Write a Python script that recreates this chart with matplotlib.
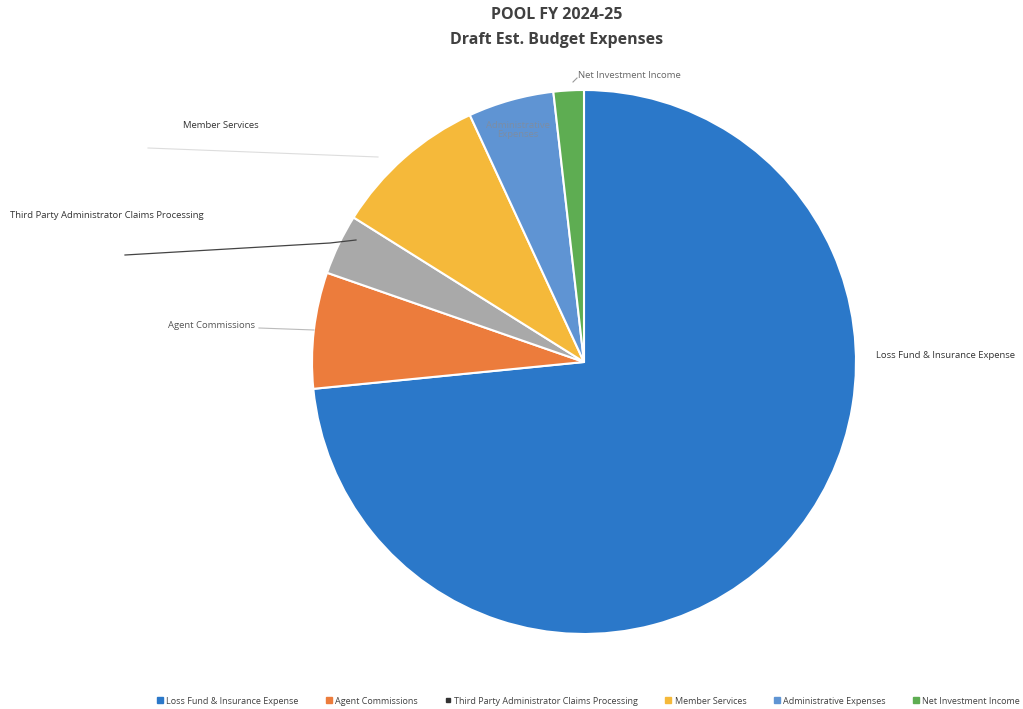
import matplotlib.pyplot as plt
from matplotlib.lines import Line2D

plt.rcParams['font.family'] = ['Open Sans', 'DejaVu Sans']

categories = ['Loss Fund & Insurance Expense', 'Agent Commissions',
              'Third Party Administrator Claims Processing', 'Member Services',
              'Administrative Expenses', 'Net Investment Income']
values = [73.5, 6.9, 3.6, 9.2, 5.1, 1.8]
colors = ['#2B78C9', '#EC7C3C', '#A9A9A9', '#F5B93A', '#5F94D3', '#5EAD52']

W, H = 1023, 709
fig = plt.figure(figsize=(W / 100, H / 100), dpi=100)
ax = fig.add_axes([0, 0, 1, 1])


def py(y):
    # pixel row (from top) -> data y
    return H - y


ax.pie(values, colors=colors, startangle=90, counterclock=False,
       center=(584, py(362)), radius=272,
       wedgeprops=dict(edgecolor='white', linewidth=1.5))
ax.set_xlim(0, W)
ax.set_ylim(0, H)
ax.set_aspect('equal')
ax.axis('off')

txt = '#333333'
fs = 6.8

# outside labels with leader lines
ax.text(876, py(356), categories[0], fontsize=fs, color=txt, va='center', ha='left')

ax.text(168, py(326), categories[1], fontsize=fs, color='#555555', va='center', ha='left')
ax.plot([259, 314], [py(328), py(330)], color='#bbbbbb', lw=0.8)

ax.text(10, py(216), categories[2], fontsize=fs, color=txt, va='center', ha='left')
ax.plot([125, 330, 356], [py(255), py(243), py(240)], color='#444444', lw=0.9)

ax.text(183, py(126), categories[3], fontsize=fs, color=txt, va='center', ha='left')
ax.plot([148, 378], [py(148), py(157)], color='#dddddd', lw=0.8)

ax.text(518, py(130), 'Administrative\nExpenses', fontsize=fs, color='#7d8da3',
        va='center', ha='center', linespacing=1.1)

ax.text(578, py(76), categories[5], fontsize=fs, color='#666666', va='center', ha='left')
ax.plot([573, 577], [py(82), py(78)], color='#999999', lw=0.8)

# title
fig.text(557 / W, 1 - 15 / H, 'POOL FY 2024-25', ha='center', va='center',
         fontsize=11.5, fontweight='bold', color='#404040')
fig.text(557 / W, 1 - 40 / H, 'Draft Est. Budget Expenses', ha='center', va='center',
         fontsize=11.5, fontweight='bold', color='#404040')

handles = [Line2D([0], [0], marker='s', color='none', markerfacecolor=c,
                  markeredgecolor=c, markersize=4) for c in colors]
handles[2] = Line2D([0], [0], marker='s', color='none', markerfacecolor='#333333',
                    markeredgecolor='#333333', markersize=3)
fig.legend(handles, categories, loc='center', bbox_to_anchor=(588 / W, 1 - 701 / H),
           ncol=6, frameon=False, fontsize=6.5, handlelength=0.8, handletextpad=0.3,
           columnspacing=2.95, labelcolor='#404040')

fig.savefig('out.png', dpi=100)
